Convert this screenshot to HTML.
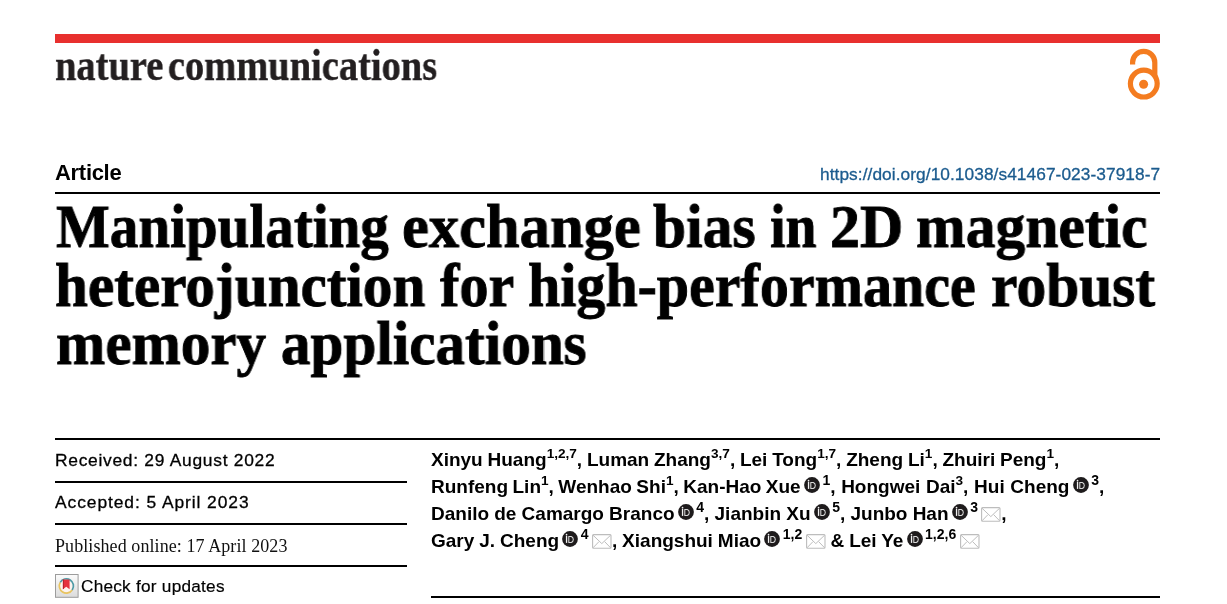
<!DOCTYPE html>
<html><head><meta charset="utf-8">
<style>
html,body{margin:0;padding:0;background:#fff;}
body{width:1227px;height:604px;position:relative;overflow:hidden;font-family:"Liberation Sans",sans-serif;color:#000;}
.abs{position:absolute;white-space:nowrap;will-change:transform;}
#redbar{left:55px;top:34px;width:1105px;height:9px;background:#e8302e;}
#wordmark{left:54.5px;top:43.2px;-webkit-text-stroke:0.4px #231f20;font-family:"Liberation Serif",serif;font-weight:bold;font-size:45px;color:#231f20;line-height:45px;transform-origin:0 0;transform:scaleX(0.855);word-spacing:-6px;}
#oa{left:1120px;top:44px;}
#article{left:55px;top:162.3px;font-weight:bold;font-size:22px;line-height:22px;letter-spacing:-0.3px;}
#doi{left:820px;top:166.2px;font-size:17.3px;line-height:17.3px;letter-spacing:0.07px;color:#1b5b8e;-webkit-text-stroke:0.3px #1b5b8e;}
.rule{background:#000;height:2px;}
.w1{top:195px;}
.w2{top:253.5px;}
.title{left:56px;font-family:"Liberation Serif",serif;font-weight:bold;font-size:62px;line-height:62px;transform-origin:0 0;-webkit-text-stroke:0.9px #000;}
.meta{left:55px;font-size:17.4px;line-height:17px;letter-spacing:0.72px;-webkit-text-stroke:0.3px #000;}
.chk{letter-spacing:0.25px;-webkit-text-stroke:0.2px #000;font-size:17.2px;}
#pub{font-family:"Liberation Serif",serif;font-size:18px;color:#111;letter-spacing:0.08px;-webkit-text-stroke:0;}
.au{left:431px;font-weight:bold;font-size:19px;line-height:19px;}
sup{font-size:13.6px;vertical-align:0;position:relative;top:-8.3px;line-height:0;}
.s2{margin-left:2.5px;font-size:14px;}
.orc{display:inline-block;width:16px;height:16px;vertical-align:0px;margin-left:3.2px;}
.env{display:inline-block;width:20px;height:15px;vertical-align:-1.5px;margin-left:3.3px;}
</style></head><body>
<div id="redbar" class="abs"></div>
<div id="wordmark" class="abs">nature communications</div>
<svg id="oa" class="abs" width="48" height="60" viewBox="1120 44 48 60">
  <circle cx="1143.8" cy="83.6" r="13.4" fill="none" stroke="#f47c20" stroke-width="5.2"/>
  <circle cx="1143.6" cy="84.2" r="4.5" fill="#f47c20"/>
  <path d="M1132.6 64.4 V62.5 A11.1 11.1 0 0 1 1154.8 62.5 V76" fill="none" stroke="#f47c20" stroke-width="5.2"/>
</svg>
<div id="article" class="abs">Article</div>
<div id="doi" class="abs">https://doi.org/10.1038/s41467-023-37918-7</div>
<div class="abs rule" style="left:55px;top:192px;width:1105px;"></div>
<div class="abs title w1" style="left:56.0px;transform:scaleX(0.92)">Manipulating</div>
<div class="abs title w1" style="left:401.5px;transform:scaleX(0.9765)">exchange</div>
<div class="abs title w1" style="left:653px;transform:scaleX(0.96)">bias</div>
<div class="abs title w1" style="left:769.6px;transform:scaleX(0.898)">in</div>
<div class="abs title w1" style="left:829.5px;transform:scaleX(0.966)">2D</div>
<div class="abs title w1" style="left:915.5px;transform:scaleX(0.9605)">magnetic</div>
<div class="abs title w2" style="left:55px;transform:scaleX(0.9545)">heterojunction</div>
<div class="abs title w2" style="left:440.2px;transform:scaleX(0.937)">for</div>
<div class="abs title w2" style="left:528.2px;transform:scaleX(0.935)">high-performance</div>
<div class="abs title w2" style="left:991.1px;transform:scaleX(0.959)">robust</div>
<div class="abs title" style="top:312px;transform:scaleX(0.954)">memory applications</div>

<div class="abs rule" style="left:55px;top:438px;width:1105px;"></div>
<div class="abs meta" style="top:452.2px;">Received: 29 August 2022</div>
<div class="abs rule" style="left:55px;top:481px;width:352px;"></div>
<div class="abs meta" style="top:494.2px;letter-spacing:0.93px">Accepted: 5 April 2023</div>
<div class="abs rule" style="left:55px;top:523px;width:352px;"></div>
<div class="abs meta" id="pub" style="top:537px;line-height:18px;">Published online: 17 April 2023</div>
<div class="abs rule" style="left:55px;top:565px;width:352px;"></div>
<svg class="abs" style="left:55px;top:574px" width="24" height="24" viewBox="0 0 24 24">
  <defs><linearGradient id="cg" x1="0" y1="0" x2="0" y2="1"><stop offset="0" stop-color="#fbfbfb"/><stop offset="1" stop-color="#dcdcdc"/></linearGradient></defs>
  <rect x="0.5" y="0.5" width="22.6" height="22.8" fill="url(#cg)" stroke="#9c9c9c" stroke-width="1"/>
  <circle cx="11.4" cy="11.9" r="6.3" fill="#fdf3ee"/>
  <path d="M17.22 15.97 A7.1 7.1 0 0 1 5.25 8.35" fill="none" stroke="#e9c45f" stroke-width="1.7"/>
  <path d="M5.25 8.35 A7.1 7.1 0 1 1 17.22 15.97" fill="none" stroke="#4e9aa6" stroke-width="1.7"/>
  <path d="M7.9 5.6 H14.6 V15.3 L11.25 12.7 L7.9 15.3 Z" fill="#e5323e"/>
  <path d="M7.9 5.6 H9 V14.5 L7.9 15.3 Z" fill="#b9222c"/>
</svg>
<div class="abs meta chk" style="left:81px;top:577.5px;">Check for updates</div>

<svg width="0" height="0" style="position:absolute">
<defs>
<g id="orcid"><circle cx="8" cy="8" r="7.9" fill="#1e1b1c"/><rect x="3.9" y="4.8" width="1.3" height="7.1" fill="#f2f2f2"/><circle cx="4.55" cy="3.6" r="0.85" fill="#f2f2f2"/><path d="M6.8 5.4 H9.3 A3.25 3.25 0 0 1 9.3 11.4 H6.8 Z" fill="none" stroke="#d8d8d8" stroke-width="1.05"/></g>
<g id="envl"><rect x="0.6" y="0.6" width="18.4" height="13.6" rx="1" fill="none" stroke="#bdbdbd" stroke-width="1.1"/><path d="M1 1.2 L9.8 9.6 L18.6 1.2 M1 13.8 L7 7.6 M18.6 13.8 L12.6 7.6" fill="none" stroke="#bdbdbd" stroke-width="1"/></g>
</defs></svg>
<div class="abs au" style="top:449.55px;word-spacing:-0.5px">Xinyu Huang<sup>1,2,7</sup>, Luman Zhang<sup>3,7</sup>, Lei Tong<sup>1,7</sup>, Zheng Li<sup>1</sup>, Zhuiri Peng<sup>1</sup>,</div>
<div class="abs au" style="top:477.1px;word-spacing:-0.8px">Runfeng Lin<sup>1</sup>, Wenhao Shi<sup>1</sup>, Kan-Hao Xue<span style="word-spacing:0.4px"><svg class="orc" width="16" height="16"><use href="#orcid"/></svg><sup class="s2">1</sup>, Hongwei Dai<sup>3</sup>, Hui Cheng<svg class="orc" width="16" height="16"><use href="#orcid"/></svg><sup class="s2">3</sup>,</span></div>
<div class="abs au" style="top:503.65px;word-spacing:-0.1px">Danilo de Camargo Branco<svg class="orc" width="16" height="16"><use href="#orcid"/></svg><sup class="s2">4</sup>, Jianbin Xu<svg class="orc" width="16" height="16"><use href="#orcid"/></svg><sup class="s2">5</sup>, Junbo Han<svg class="orc" width="16" height="16"><use href="#orcid"/></svg><sup class="s2">3</sup><svg class="env" width="20" height="15"><use href="#envl"/></svg>,</div>
<div class="abs au" style="top:531px;word-spacing:-0.35px">Gary J. Cheng<svg class="orc" width="16" height="16"><use href="#orcid"/></svg><sup class="s2">4</sup><svg class="env" width="20" height="15"><use href="#envl"/></svg>, Xiangshui Miao<svg class="orc" width="16" height="16"><use href="#orcid"/></svg><sup class="s2">1,2</sup><svg class="env" width="20" height="15"><use href="#envl"/></svg> &amp; Lei Ye<svg class="orc" width="16" height="16"><use href="#orcid"/></svg><sup class="s2">1,2,6</sup><svg class="env" width="20" height="15"><use href="#envl"/></svg></div>
<div class="abs rule" style="left:431px;top:596px;width:729px;"></div>
</body></html>
